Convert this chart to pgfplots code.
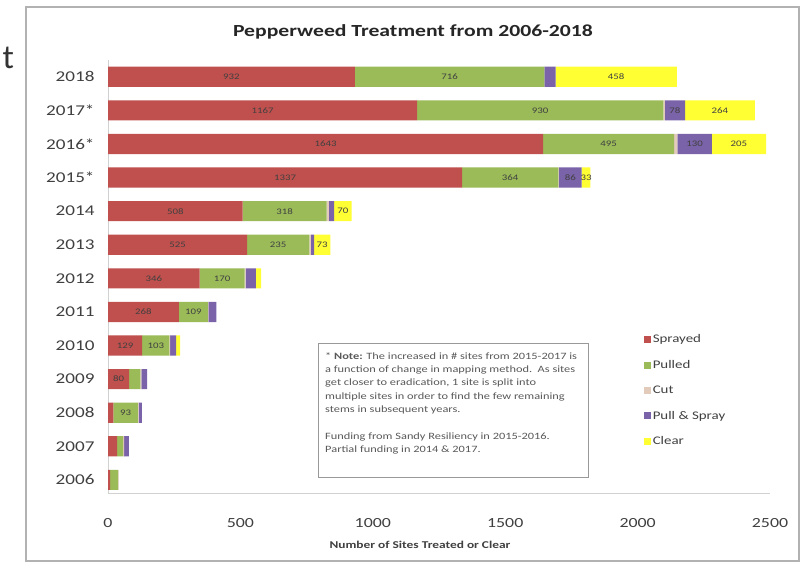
\documentclass[border=0pt]{standalone}
\usepackage{pgfplots}
\pgfplotsset{compat=1.18}
\usepackage{pgfplotstable}
\usepackage{fontspec}
\setmainfont{Carlito}[FakeStretch=1.28]
\newfontfamily\slidefont{Carlito}

\definecolor{sprayed}{HTML}{C0504D}
\definecolor{pulled}{HTML}{9BBB59}
\definecolor{cut}{HTML}{E2CBBA}
\definecolor{pullspray}{HTML}{7A63A8}
\definecolor{clear}{HTML}{FFFF33}
\definecolor{txt}{HTML}{404040}

% y = 0 (2006) ... 12 (2018); lab = text shown inside the segment
\pgfplotstableread{
y val lab
0 8 {}
1 34 {}
2 20 {}
3 80 80
4 129 129
5 268 268
6 346 346
7 525 525
8 508 508
9 1337 1337
10 1643 1643
11 1167 1167
12 932 932
}\sprayed

\pgfplotstableread{
y val lab
0 30 {}
1 23 {}
2 93 93
3 42 {}
4 103 103
5 109 109
6 170 170
7 235 235
8 318 318
9 364 364
10 495 495
11 930 930
12 716 716
}\pulled

\pgfplotstableread{
y val lab
0 2 {}
1 4 {}
2 3 {}
3 4 {}
4 3 {}
5 2 {}
6 4 {}
7 6 {}
8 8 {}
9 2 {}
10 12 {}
11 6 {}
12 0 {}
}\cut

\pgfplotstableread{
y val lab
0 0 {}
1 18 {}
2 12 {}
3 22 {}
4 22 {}
5 30 {}
6 38 {}
7 12 {}
8 20 {}
9 86 86
10 130 130
11 76 78
12 42 {}
}\pullspray

\pgfplotstableread{
y val lab
0 0 {}
1 0 {}
2 0 {}
3 0 {}
4 15 {}
5 0 {}
6 20 {}
7 62 73
8 66 70
9 33 33
10 205 205
11 264 264
12 458 458
}\clear

\pgfplotsset{
  seg/.style={
    fill=#1, draw=none,
    point meta=explicit symbolic,
    nodes near coords={\pgfplotspointmeta},
    every node near coord/.append style={anchor=center, inner sep=0pt,
      font=\fontsize{8.5}{9}\selectfont, text=black!75},
  },
}

\begin{document}
\begin{tikzpicture}
\path[use as bounding box, fill=white] (0,0) rectangle (805bp,564bp);
\draw[black!30, line width=1.5bp] (26bp,3bp) rectangle (799bp,557bp);
\node[anchor=west, font=\slidefont\fontsize{34}{34}\selectfont, text=black!80] at (-1bp,506bp) {t};

\begin{axis}[
  at={(108bp,70bp)}, anchor=south west,
  scale only axis, width=662bp, height=434bp,
  xbar stacked, bar width=0.6,
  xmin=0, xmax=2500, ymin=-0.42, ymax=12.5,
  xtick={0,500,...,2500},
  ytick={0,...,12},
  yticklabels={2006,2007,2008,2009,2010,2011,2012,2013,2014,2015*,2016*,2017*,2018},
  axis lines*=left,
  axis line style={draw=black!18, line width=1bp},
  major tick length=0pt,
  /pgf/number format/assume math mode=true,
  /pgf/number format/set thousands separator={},
  xticklabel style={font=\fontsize{14}{14}\selectfont, text=txt, yshift=-21bp},
  yticklabel style={font=\fontsize{15}{15}\selectfont, text=txt, xshift=-10bp},
  clip=false,
  legend style={at={(rel axis cs:0.809,0.372)}, anchor=north west, draw=none, fill=none,
    font=\fontsize{11.7}{11.7}\selectfont, text=txt, row sep=12bp,
    inner sep=0pt},
  legend cell align=left,
  legend image code/.code={\fill[#1] (0bp,-3.5bp) rectangle (7bp,3.5bp);},
]
\addplot[seg=sprayed] table[x=val, y=y, meta=lab] {\sprayed};
\addplot[seg=pulled] table[x=val, y=y, meta=lab] {\pulled};
\addplot[seg=cut] table[x=val, y=y, meta=lab] {\cut};
\addplot[seg=pullspray] table[x=val, y=y, meta=lab] {\pullspray};
\addplot[seg=clear] table[x=val, y=y, meta=lab] {\clear};
\legend{Sprayed, Pulled, Cut, Pull \& Spray, Clear}
\end{axis}

\node[font=\bfseries\fontsize{17}{17}\selectfont, text=black!85] at (413bp,532bp)
  {Pepperweed Treatment from 2006-2018};
\node[font=\bfseries\fontsize{10.5}{10.5}\selectfont, text=txt] at (420bp,19bp)
  {Number of Sites Treated or Clear};

\draw[black!40, line width=1bp] (318bp,220bp) rectangle (588bp,86bp);
\node[anchor=north west, align=left, inner sep=0pt, text=black!65,
  font=\fontsize{9.7}{13.4}\selectfont] at (325bp,212bp)
  {* \textbf{Note:} The increased in \# sites from 2015-2017 is\\
   a function of change in mapping method.\ \ As sites\\
   get closer to eradication, 1 site is split into\\
   multiple sites in order to find the few remaining\\
   stems in subsequent years.\\[13.4bp]
   Funding from Sandy Resiliency in 2015-2016.\\
   Partial funding in 2014 \& 2017.};
\end{tikzpicture}
\end{document}
